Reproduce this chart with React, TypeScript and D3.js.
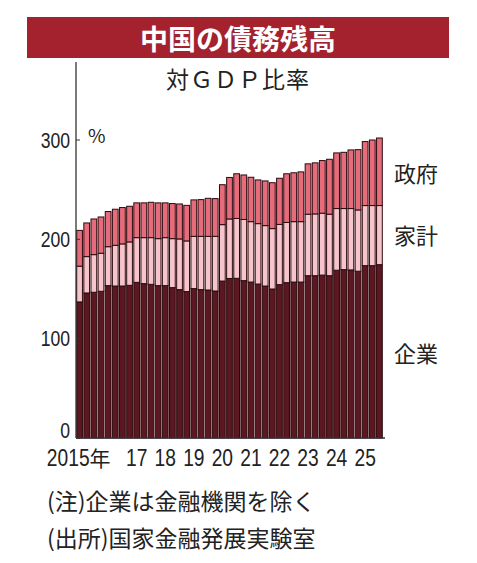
import * as d3 from "d3";

// quarterly, 2015Q1 .. 2025Q3
const quarters = [
  "2015Q1", "2015Q2", "2015Q3", "2015Q4",
  "2016Q1", "2016Q2", "2016Q3", "2016Q4",
  "2017Q1", "2017Q2", "2017Q3", "2017Q4",
  "2018Q1", "2018Q2", "2018Q3", "2018Q4",
  "2019Q1", "2019Q2", "2019Q3", "2019Q4",
  "2020Q1", "2020Q2", "2020Q3", "2020Q4",
  "2021Q1", "2021Q2", "2021Q3", "2021Q4",
  "2022Q1", "2022Q2", "2022Q3", "2022Q4",
  "2023Q1", "2023Q2", "2023Q3", "2023Q4",
  "2024Q1", "2024Q2", "2024Q3", "2024Q4",
  "2025Q1", "2025Q2", "2025Q3",
];

// 企業 (bottom)
const corporate = [
  137, 146, 146.7, 147.7, 153.4, 153, 153, 153.7, 156.7, 155.4, 154.7,
  153.4, 153.4, 151.4, 149.4, 147.4, 150.4, 149.4, 149, 148, 158, 160.6,
  160.8, 158.4, 157, 155, 153, 150, 154.4, 156.4, 157, 157, 163.4, 163.4,
  164, 163.4, 168.9, 169.5, 169.2, 167.9, 173.5, 173.5, 174.5,
];

// 家計 (middle)
const household = [
  36, 36.6, 37.9, 38.3, 39.2, 41, 42.4, 43.7, 45, 46.3, 47, 47.3, 48.3,
  49.3, 51, 51, 52.6, 53.6, 54, 55, 56.8, 59.9, 60.2, 61.6, 60.8, 60.8,
  60.8, 60.8, 60.6, 60.6, 60.8, 60.8, 61.9, 62.2, 62.3, 61.9, 62.1, 61.5,
  61.8, 61.7, 60.5, 60.5, 59.5,
];

// 政府 (top)
const government = [
  36, 33.9, 35.9, 36.5, 35.4, 36.3, 36.6, 35.9, 35, 35, 35.6, 36, 35, 35.3,
  35.2, 35.8, 36.7, 37, 38.3, 38, 40.2, 41.8, 45, 44.8, 44.7, 44, 45, 46.2,
  46.5, 49, 49.2, 50.1, 50.7, 51.4, 53, 55.3, 56, 56.6, 59, 60.7, 64.4, 66,
  68,
];

const seriesKeys = ["corporate", "household", "government"];
const seriesNames = ["企業", "家計", "政府"];
const seriesColors = ["#5c1721", "#f6c5cb", "#e66b7b"];

const yTicks = [0, 100, 200, 300];
const xTickQuarters = [
  "2015Q1", "2017Q1", "2018Q1", "2019Q1", "2020Q1", "2021Q1",
  "2022Q1", "2023Q1", "2024Q1", "2025Q1",
];
const xTickLabels = ["2015年", "17", "18", "19", "20", "21", "22", "23", "24", "25"];

const W = 477;
const H = 563;
const left = 76;
const right = 383;
const base = 438;

const JP = "'Noto Sans CJK JP', sans-serif";
const NUM = "'Liberation Sans', sans-serif";
const SQUEEZE = 0.8;

export default function App() {
  const rows = quarters.map((q, i) => ({
    q,
    corporate: corporate[i],
    household: household[i],
    government: government[i],
  }));
  const stacked = d3.stack<any>().keys(seriesKeys)(rows);

  const x = d3.scaleBand<string>().domain(quarters).range([left, right]).padding(0);
  const y = d3.scaleLinear().domain([0, 300]).range([base, 140]);
  const bw = x.bandwidth();

  // label centres for the right-hand legend
  const legendY = [352, 234, 172];

  return (
    <svg
      width={W}
      height={H}
      style={{ position: "absolute", left: 0, top: 0, background: "#fff" }}
    >
      <rect x={27} y={17} width={422} height={41} fill="#a3222e" />
      <text
        x={238}
        y={38}
        textAnchor="middle"
        dominantBaseline="central"
        fill="#fff"
        fontFamily={JP}
        fontWeight={700}
        fontSize={28}
      >
        中国の債務残高
      </text>
      <text
        x={238}
        y={78}
        textAnchor="middle"
        dominantBaseline="central"
        fill="#222"
        fontFamily={JP}
        fontSize={23}
        letterSpacing={1}
      >
        対ＧＤＰ比率
      </text>

      {/* bars */}
      {stacked.map((s, k) => (
        <g key={s.key}>
          {s.map((d, i) => (
            <rect
              key={i}
              x={x(quarters[i])! + 0.7}
              width={bw - 1.4}
              y={y(d[1])}
              height={y(d[0]) - y(d[1])}
              fill={seriesColors[k]}
              stroke="#2a0a0e"
              strokeWidth={1}
            />
          ))}
        </g>
      ))}

      {/* axes */}
      <line x1={left} x2={left} y1={62} y2={base} stroke="#333" strokeWidth={1.3} />
      <line x1={left} x2={right + 2} y1={base} y2={base} stroke="#333" strokeWidth={1.3} />
      {yTicks.map((t) => (
        <g key={t}>
          <line x1={left} x2={left + 4} y1={y(t)} y2={y(t)} stroke="#333" />
          <text
            transform={`translate(70,${Math.min(y(t), 430)}) scale(${SQUEEZE},1)`}
            textAnchor="end"
            dominantBaseline="central"
            fontFamily={NUM}
            fontSize={22}
            fill="#222"
          >
            {t}
          </text>
        </g>
      ))}
      <text x={88} y={134} dominantBaseline="central" fontFamily={JP} fontSize={19} fill="#222">
        %
      </text>

      {xTickQuarters.map((q, i) => {
        const label = xTickLabels[i];
        const hasNen = label.includes("年");
        const cx = x(q)! + bw / 2;
        if (hasNen) {
          // "2015年" is centred as a whole on the first bar
          return (
            <g key={q} transform={`translate(${cx + 10},466)`}>
              <text
                transform={`scale(${SQUEEZE},1)`}
                textAnchor="end"
                fontFamily={NUM}
                fontSize={24}
                fill="#222"
              >
                {label.replace("年", "")}
              </text>
              <text x={0} fontFamily={JP} fontSize={21} fill="#222">
                年
              </text>
            </g>
          );
        }
        return (
          <text
            key={q}
            transform={`translate(${cx},466) scale(${SQUEEZE},1)`}
            textAnchor="middle"
            fontFamily={NUM}
            fontSize={24}
            fill="#222"
          >
            {label}
          </text>
        );
      })}

      {seriesNames.map((n, k) => (
        <text
          key={n}
          x={394}
          y={legendY[k]}
          dominantBaseline="central"
          fontFamily={JP}
          fontSize={22}
          fill="#222"
        >
          {n}
        </text>
      ))}

      <text x={47} y={500} dominantBaseline="central" fontFamily={JP} fontSize={23} fill="#222">
        (注)企業は金融機関を除く
      </text>
      <text x={47} y={537} dominantBaseline="central" fontFamily={JP} fontSize={23} fill="#222">
        (出所)国家金融発展実験室
      </text>
    </svg>
  );
}
